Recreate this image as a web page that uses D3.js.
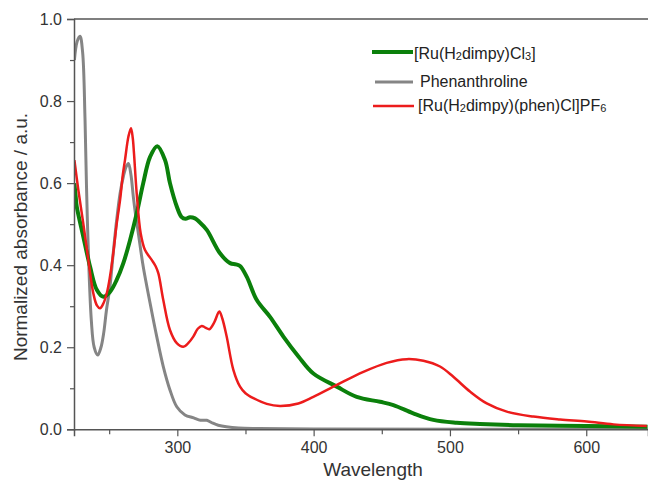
<!DOCTYPE html>
<html>
<head>
<meta charset="utf-8">
<script src="https://cdn.jsdelivr.net/npm/d3@7"></script>
<style>
  html, body { margin: 0; padding: 0; background: #fff; }
  svg { display: block; font-family: "Liberation Sans", Arial, sans-serif; }
</style>
</head>
<body>
<div id="chart"></div>
<script>
// wavelength (nm), normalized absorbance
const ruCl3 = [
  [224.5, 0.60], [225.5, 0.565], [226.2, 0.543], [231, 0.47], [236, 0.396], [240.9, 0.34],
  [245.7, 0.323], [250.6, 0.335], [255.5, 0.364], [260.4, 0.405], [265.3, 0.461], [270.2, 0.526],
  [275, 0.60], [280, 0.664], [285.3, 0.69], [291, 0.656], [294.6, 0.60], [299.6, 0.543],
  [303, 0.518], [306, 0.513], [309.3, 0.517], [313, 0.514], [316, 0.506], [321.6, 0.486],
  [331.3, 0.429], [338.7, 0.405], [343, 0.402], [346, 0.398], [350.9, 0.372], [358.3, 0.315],
  [368, 0.274], [377.8, 0.226], [389, 0.177], [399.8, 0.136], [417, 0.104], [431.6, 0.079],
  [448.7, 0.067], [458.5, 0.059], [473.1, 0.039], [487.8, 0.023], [505, 0.016], [522, 0.013],
  [550, 0.010], [600, 0.008], [645, 0.006]
];

const phen = [
  [224.5, 0.90], [226.5, 0.945], [228.6, 0.958], [230.5, 0.92], [232.3, 0.754], [234, 0.51],
  [236.9, 0.266], [239, 0.20], [241.6, 0.181], [244, 0.20], [246, 0.235], [248, 0.29],
  [250.6, 0.348], [253, 0.43], [255.5, 0.51], [258, 0.575], [260.4, 0.616], [262.5, 0.64],
  [264.1, 0.648], [266, 0.62], [267.7, 0.567], [269.5, 0.52], [271.4, 0.478], [275, 0.396],
  [280, 0.308], [284.9, 0.226], [289.7, 0.153], [294.6, 0.096], [299.6, 0.055], [305.6, 0.035],
  [312, 0.028], [317, 0.022], [321.6, 0.022], [326, 0.015], [330, 0.01], [336, 0.006],
  [345, 0.003], [360, 0.002], [400, 0.001], [645, 0.0]
];

const ruPhen = [
  [224.5, 0.656], [227.4, 0.583], [231, 0.502], [234.7, 0.413], [238.4, 0.331], [241, 0.302],
  [243.3, 0.295], [245.5, 0.305], [248.2, 0.331], [250.5, 0.37], [253, 0.429], [255.5, 0.50],
  [258, 0.559], [260, 0.62], [261.6, 0.656], [264.1, 0.713], [266, 0.734], [267.3, 0.71],
  [268.2, 0.673], [270.2, 0.575], [273.1, 0.478], [276.3, 0.437], [281.2, 0.413], [284, 0.398],
  [286.1, 0.38], [289.7, 0.315], [294.6, 0.242], [299.6, 0.21], [304.4, 0.201], [308, 0.21],
  [311.7, 0.226], [315, 0.245], [317.9, 0.252], [320.5, 0.248], [323.5, 0.244], [327, 0.26],
  [330.8, 0.287], [333, 0.27], [336.2, 0.226], [341.1, 0.145], [346, 0.104], [350, 0.088],
  [355.8, 0.076], [365.6, 0.062], [375.3, 0.057], [388.8, 0.063], [399.8, 0.079], [417, 0.108],
  [436.5, 0.14], [453.6, 0.162], [468.3, 0.171], [480.5, 0.167], [492.7, 0.153], [502.5, 0.128],
  [514.7, 0.092], [527, 0.063], [541.7, 0.043], [561.2, 0.031], [580.8, 0.024], [600.4, 0.019],
  [620, 0.012], [644.4, 0.008]
];

const xMajor = [300, 400, 500, 600];
const xMinor = [250, 350, 450, 550];
const yMajor = [0, 0.2, 0.4, 0.6, 0.8, 1.0];
const yMinor = [0.1, 0.3, 0.5, 0.7, 0.9];

const series = [
  { name: ['[Ru(H', '2', 'dimpy)Cl', '3', ']'], data: ruCl3, color: '#0b800b', width: 4, ly: 52, lx: [372, 413], tx: 414, ty: 59 },
  { name: ['Phenanthroline'], data: phen, color: '#858585', width: 3, ly: 82, lx: [375, 413], tx: 420, ty: 87 },
  { name: ['[Ru(H', '2', 'dimpy)(phen)Cl]PF', '6'], data: ruPhen, color: '#ec1c1c', width: 2.5, ly: 106, lx: [373, 414], tx: 418, ty: 111 }
];

const width = 648, height = 481;
const plotLeft = 74, plotRight = 648, plotTop = 19, plotBottom = 429.3;

const svg = d3.select('#chart').append('svg')
  .attr('width', width)
  .attr('height', height);

const x = d3.scaleLinear().domain([224.2, 645.3]).range([plotLeft, plotRight]);
const y = d3.scaleLinear().domain([0, 1]).range([plotBottom, plotTop]);

svg.append('clipPath').attr('id', 'plot-clip')
  .append('rect')
  .attr('x', plotLeft).attr('y', plotTop - 5)
  .attr('width', plotRight - plotLeft).attr('height', plotBottom - plotTop + 5);

const line = d3.line()
  .x(d => x(d[0]))
  .y(d => y(d[1]))
  .curve(d3.curveCatmullRom.alpha(0.5));

// grey underneath, then green, red on top
const plot = svg.append('g').attr('clip-path', 'url(#plot-clip)');
[series[1], series[0], series[2]].forEach(s => {
  plot.append('path')
    .datum(s.data)
    .attr('fill', 'none')
    .attr('stroke', s.color)
    .attr('stroke-width', s.width)
    .attr('stroke-linejoin', 'round')
    .attr('d', line);
});

// axes
const axisColor = '#555';
const textColor = '#333';

svg.append('g').attr('transform', `translate(0,${plotBottom})`)
  .call(d3.axisBottom(x).tickValues(xMajor).tickSize(7).tickPadding(5).tickFormat(d3.format('d')));
svg.append('g').attr('transform', `translate(0,${plotBottom})`)
  .call(d3.axisBottom(x).tickValues(xMinor).tickSize(5).tickFormat(''))
  .call(g => g.select('.domain').remove());

svg.append('g').attr('transform', `translate(${plotLeft},0)`)
  .call(d3.axisLeft(y).tickValues(yMajor).tickSize(7).tickPadding(5).tickFormat(d3.format('.1f')));
svg.append('g').attr('transform', `translate(${plotLeft},0)`)
  .call(d3.axisLeft(y).tickValues(yMinor).tickSize(4).tickFormat(''))
  .call(g => g.select('.domain').remove());

svg.selectAll('.domain').attr('stroke', axisColor).attr('stroke-width', 1.5);
svg.selectAll('.tick line').attr('stroke', axisColor).attr('stroke-width', 1.2);
svg.selectAll('.tick text')
  .attr('fill', textColor)
  .style('font-size', '16px')
  .style('font-family', '"Liberation Sans", Arial, sans-serif');

// top frame line
svg.append('line')
  .attr('x1', plotLeft).attr('x2', plotRight)
  .attr('y1', plotTop).attr('y2', plotTop)
  .attr('stroke', axisColor).attr('stroke-width', 1.5);

// axis titles
svg.append('text')
  .attr('x', 373).attr('y', 476)
  .attr('text-anchor', 'middle')
  .attr('fill', textColor)
  .style('font-size', '19px')
  .text('Wavelength');

svg.append('text')
  .attr('transform', 'translate(27,237) rotate(-90)')
  .attr('text-anchor', 'middle')
  .attr('fill', textColor)
  .style('font-size', '19px')
  .text('Normalized absorbance / a.u.');

// legend
const legend = svg.append('g');
series.forEach(s => {
  legend.append('line')
    .attr('x1', s.lx[0]).attr('x2', s.lx[1])
    .attr('y1', s.ly).attr('y2', s.ly)
    .attr('stroke', s.color)
    .attr('stroke-width', s.width);
  const t = legend.append('text')
    .attr('x', s.tx).attr('y', s.ty)
    .attr('fill', '#222')
    .style('font-size', '16px');
  s.name.forEach((part, i) => {
    const sub = i % 2 === 1;
    t.append('tspan')
      .style('font-size', sub ? '11px' : '16px')
      .attr('dy', sub ? 1 : (i > 0 ? -1 : 0))
      .text(part);
  });
});
</script>
</body>
</html>
